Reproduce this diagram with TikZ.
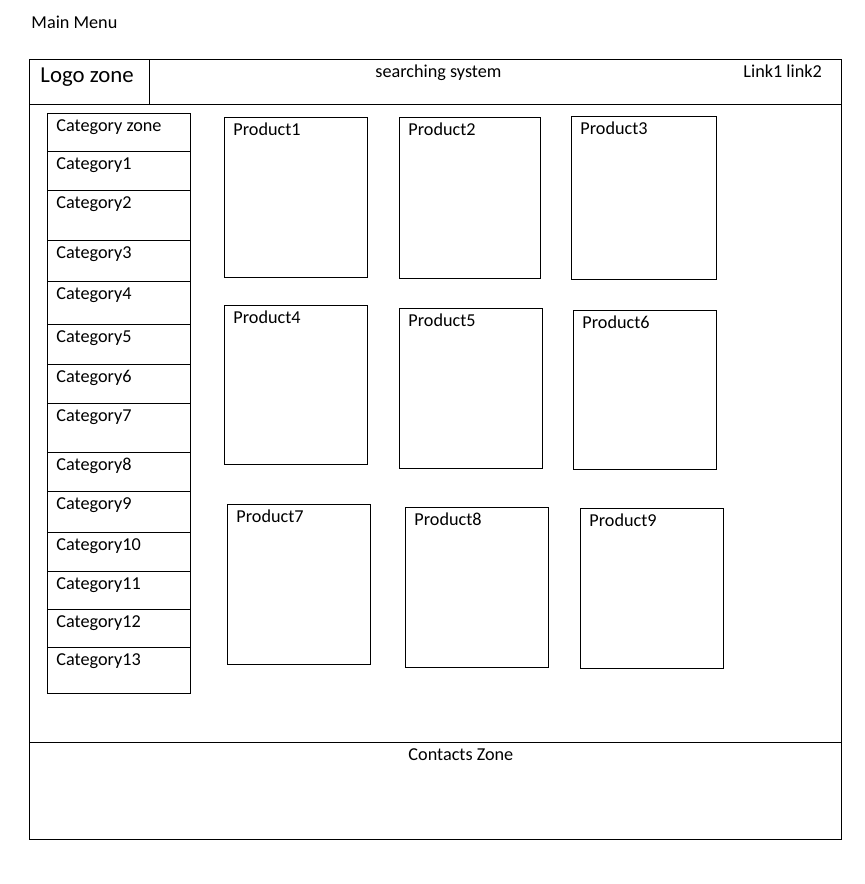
\documentclass[tikz,border=0pt]{standalone}
\usepackage{fontspec}
\setmainfont{Carlito}
\begin{document}
\begin{tikzpicture}[x=1pt,y=-1pt,line width=0.95pt,
  box/.style={draw,rectangle,inner sep=0pt,outer sep=0pt,anchor=north west},
  txt/.style={anchor=base west,inner sep=0pt,font=\fontsize{18.2}{21}\selectfont},
  bigtxt/.style={anchor=base west,inner sep=0pt,font=\fontsize{22.8}{26}\selectfont}]
\useasboundingbox[fill=white] (0,0) rectangle (865,884);
% frame
\node[box,minimum width=812pt,minimum height=780pt] (frame) at (29,59) {};
\node[box,minimum width=812pt,minimum height=45pt] (header) at (29,59) {};
\node[box,minimum width=120pt,minimum height=45pt] (logo) at (29,59) {};
\node[box,minimum width=812pt,minimum height=97pt] (footer) at (29,742) {};
% texts
\node[txt] (mainmenu) at (31,28) {Main Menu};
\node[bigtxt] (logolab) at (40,82) {Logo zone};
\node[txt] (search) at (375,77) {searching system};
\node[txt] (links) at (743,77) {Link1 link2};
\node[txt] (contacts) at (408,760) {Contacts Zone};
% categories
\foreach \t/\b/\lab [count=\i from 0] in {113/151/Category zone,151/190/Category1,190/240/Category2,240/281/Category3,281/324/Category4,324/364/Category5,364/403/Category6,403/452/Category7,452/491/Category8,491/532/Category9,532/571/Category10,571/609/Category11,609/647/Category12,647/693/Category13}{
  \pgfmathsetmacro\hh{\b-\t}
  \node[box,minimum width=143pt,minimum height=\hh pt] (cat\i) at (47,\t) {};
  \node[txt] (catlab\i) at ([xshift=9pt,yshift=-18.5pt]cat\i.north west) {\lab};
}
% products
\foreach \x/\y/\w/\h/\lab in {224/117/143/160/Product1,399/117/141/161/Product2,571/116/145/163/Product3,224/305/143/159/Product4,399/308/143/160/Product5,573/310/143/159/Product6,227/504/143/160/Product7,405/507/143/160/Product8,580/508/143/160/Product9}{
  \node[box,minimum width=\w pt,minimum height=\h pt] (\lab) at (\x,\y) {};
  \node[txt] (\lab-lab) at ([xshift=9pt,yshift=-18.5pt]\lab.north west) {\lab};
}
\end{tikzpicture}
\end{document}
